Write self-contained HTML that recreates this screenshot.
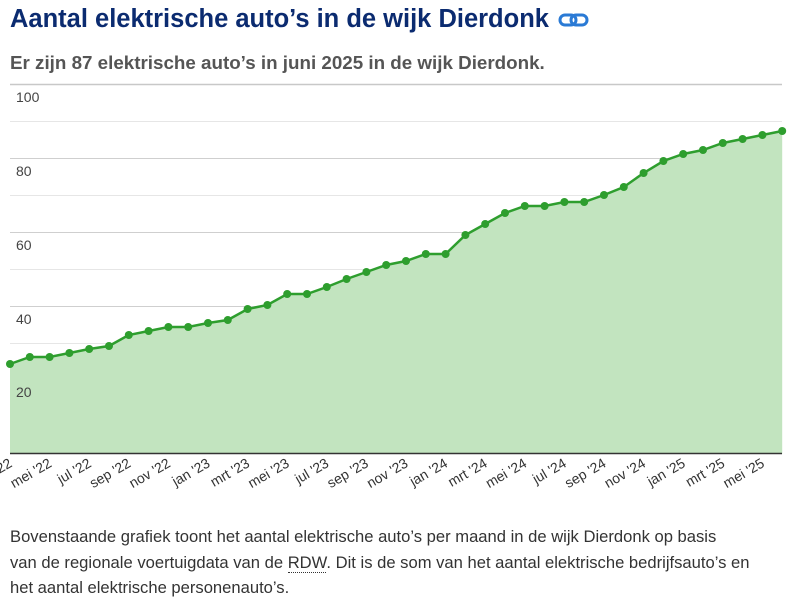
<!DOCTYPE html>
<html><head><meta charset="utf-8"><style>
body{margin:0;width:790px;height:605px;background:#fff;font-family:"Liberation Sans",sans-serif;overflow:hidden;position:relative}
h1{position:absolute;left:10px;top:5px;margin:0;font-size:25.5px;font-weight:bold;color:#0b2b70;white-space:nowrap}
h2{position:absolute;left:10px;top:52px;margin:0;font-size:18.8px;font-weight:bold;color:#555;white-space:nowrap}
p{position:absolute;left:10px;top:524px;margin:0;font-size:16.6px;line-height:25.5px;color:#333;white-space:nowrap}
svg{position:absolute;left:0;top:0}
</style></head><body>
<h1>Aantal elektrische auto’s in de wijk Dierdonk <svg style="position:relative;left:2px;top:3px" width="32" height="20" viewBox="0 0 32 20"><rect x="2" y="5" width="16" height="10" rx="5" fill="none" stroke="#2a7ad5" stroke-width="3"/><rect x="13" y="5" width="16" height="10" rx="5" fill="none" stroke="#2a7ad5" stroke-width="3"/></svg></h1>
<h2>Er zijn 87 elektrische auto’s in juni 2025 in de wijk Dierdonk.</h2>
<svg width="790" height="520" viewBox="0 0 790 520">
<line x1="10" y1="84.5" x2="782" y2="84.5" stroke="#c8c8c8" stroke-width="1.5"/>
<g stroke="#e6e6e6" stroke-width="1"><line x1="10" y1="121.5" x2="782" y2="121.5"/><line x1="10" y1="195.5" x2="782" y2="195.5"/><line x1="10" y1="269.5" x2="782" y2="269.5"/><line x1="10" y1="343.5" x2="782" y2="343.5"/><line x1="10" y1="417.5" x2="782" y2="417.5"/></g>
<g stroke="#cfcfcf" stroke-width="1"><line x1="10" y1="158.5" x2="782" y2="158.5"/><line x1="10" y1="232.5" x2="782" y2="232.5"/><line x1="10" y1="306.5" x2="782" y2="306.5"/><line x1="10" y1="380.5" x2="782" y2="380.5"/></g>
<polygon fill="#c2e4bf" points="10,454 10,364 29.8,357 49.6,357 69.4,353 89.2,349 109,346 128.8,335 148.6,331 168.4,327 188.2,327 208,323 227.8,320 247.6,309 267.4,305 287.2,294 307,294 326.8,287 346.6,279 366.4,272 386.2,265 406,261 425.8,254 445.6,254 465.4,235 485.2,224 505,213 524.8,206 544.6,206 564.4,202 584.2,202 604,195 623.8,187 643.6,173 663.4,161 683.2,154 703,150 722.8,143 742.6,139 762.4,135 782.2,131 782.2,454"/>
<polyline fill="none" stroke="#2e9e2e" stroke-width="2.5" points="10,364 29.8,357 49.6,357 69.4,353 89.2,349 109,346 128.8,335 148.6,331 168.4,327 188.2,327 208,323 227.8,320 247.6,309 267.4,305 287.2,294 307,294 326.8,287 346.6,279 366.4,272 386.2,265 406,261 425.8,254 445.6,254 465.4,235 485.2,224 505,213 524.8,206 544.6,206 564.4,202 584.2,202 604,195 623.8,187 643.6,173 663.4,161 683.2,154 703,150 722.8,143 742.6,139 762.4,135 782.2,131"/>
<g fill="#2e9e2e">
<circle cx="10" cy="364" r="4"/><circle cx="29.8" cy="357" r="4"/><circle cx="49.6" cy="357" r="4"/><circle cx="69.4" cy="353" r="4"/><circle cx="89.2" cy="349" r="4"/><circle cx="109" cy="346" r="4"/><circle cx="128.8" cy="335" r="4"/><circle cx="148.6" cy="331" r="4"/><circle cx="168.4" cy="327" r="4"/><circle cx="188.2" cy="327" r="4"/><circle cx="208" cy="323" r="4"/><circle cx="227.8" cy="320" r="4"/><circle cx="247.6" cy="309" r="4"/><circle cx="267.4" cy="305" r="4"/><circle cx="287.2" cy="294" r="4"/><circle cx="307" cy="294" r="4"/><circle cx="326.8" cy="287" r="4"/><circle cx="346.6" cy="279" r="4"/><circle cx="366.4" cy="272" r="4"/><circle cx="386.2" cy="265" r="4"/><circle cx="406" cy="261" r="4"/><circle cx="425.8" cy="254" r="4"/><circle cx="445.6" cy="254" r="4"/><circle cx="465.4" cy="235" r="4"/><circle cx="485.2" cy="224" r="4"/><circle cx="505" cy="213" r="4"/><circle cx="524.8" cy="206" r="4"/><circle cx="544.6" cy="206" r="4"/><circle cx="564.4" cy="202" r="4"/><circle cx="584.2" cy="202" r="4"/><circle cx="604" cy="195" r="4"/><circle cx="623.8" cy="187" r="4"/><circle cx="643.6" cy="173" r="4"/><circle cx="663.4" cy="161" r="4"/><circle cx="683.2" cy="154" r="4"/><circle cx="703" cy="150" r="4"/><circle cx="722.8" cy="143" r="4"/><circle cx="742.6" cy="139" r="4"/><circle cx="762.4" cy="135" r="4"/><circle cx="782.2" cy="131" r="4"/>
</g>
<line x1="10" y1="453.5" x2="782" y2="453.5" stroke="#333" stroke-width="1.5"/>
<g font-size="14" fill="#444" font-family="Liberation Sans, sans-serif">
<text x="16" y="102">100</text><text x="16" y="176">80</text><text x="16" y="250">60</text><text x="16" y="324">40</text><text x="16" y="397">20</text>
</g>
<g font-size="14" fill="#333" font-family="Liberation Sans, sans-serif" text-anchor="end">
<text transform="translate(13,466) rotate(-30)">mrt '22</text>
<text transform="translate(52.6,466) rotate(-30)">mei '22</text>
<text transform="translate(92.2,466) rotate(-30)">jul '22</text>
<text transform="translate(131.8,466) rotate(-30)">sep '22</text>
<text transform="translate(171.4,466) rotate(-30)">nov '22</text>
<text transform="translate(211,466) rotate(-30)">jan '23</text>
<text transform="translate(250.6,466) rotate(-30)">mrt '23</text>
<text transform="translate(290.2,466) rotate(-30)">mei '23</text>
<text transform="translate(329.8,466) rotate(-30)">jul '23</text>
<text transform="translate(369.4,466) rotate(-30)">sep '23</text>
<text transform="translate(409,466) rotate(-30)">nov '23</text>
<text transform="translate(448.6,466) rotate(-30)">jan '24</text>
<text transform="translate(488.2,466) rotate(-30)">mrt '24</text>
<text transform="translate(527.8,466) rotate(-30)">mei '24</text>
<text transform="translate(567.4,466) rotate(-30)">jul '24</text>
<text transform="translate(607,466) rotate(-30)">sep '24</text>
<text transform="translate(646.6,466) rotate(-30)">nov '24</text>
<text transform="translate(686.2,466) rotate(-30)">jan '25</text>
<text transform="translate(725.8,466) rotate(-30)">mrt '25</text>
<text transform="translate(765.4,466) rotate(-30)">mei '25</text>
</g>
</svg>
<p>Bovenstaande grafiek toont het aantal elektrische auto’s per maand in de wijk Dierdonk op basis<br>van de regionale voertuigdata van de <span style="border-bottom:1px dotted #333">RDW</span>. Dit is de som van het aantal elektrische bedrijfsauto’s en<br>het aantal elektrische personenauto’s.</p>
</body></html>
